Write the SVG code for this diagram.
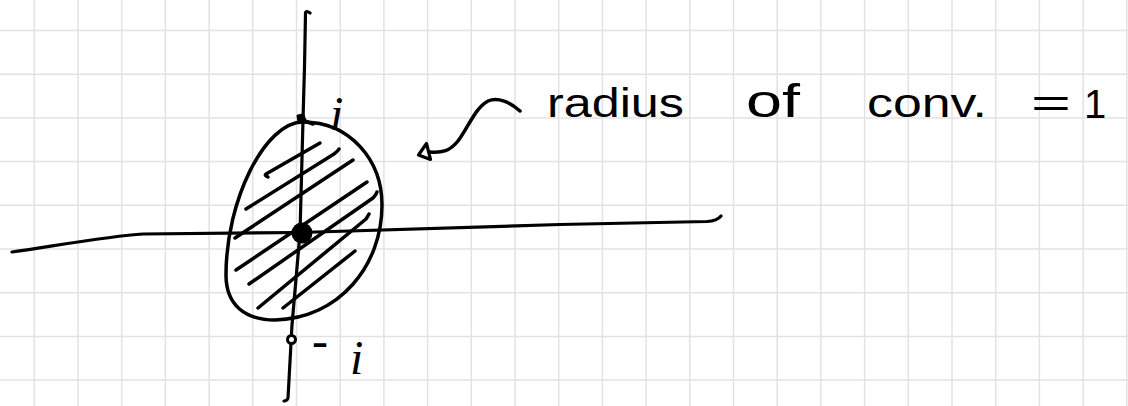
<svg xmlns="http://www.w3.org/2000/svg" width="1128" height="406" viewBox="0 0 1128 406">
<style>
.grid{stroke:#e2e2e2;stroke-width:1.5;fill:none}
.ink{stroke:#000;fill:none;stroke-width:3.5;stroke-linecap:round;stroke-linejoin:round}
.axis{stroke:#000;fill:none;stroke-width:3.2;stroke-linecap:round;stroke-linejoin:round}
.word{font-family:"Liberation Sans",Arial,sans-serif;font-size:40px;fill:#000}
.lab{font-family:"Liberation Serif","Times New Roman",serif;font-style:italic;font-size:48px;fill:#000}
</style>
<rect width="1128" height="406" fill="#fff"/>
<g id="grid" class="grid">
<path d="M34.3,0V406M78,0V406M121.7,0V406M165.4,0V406M209.1,0V406M252.8,0V406M296.5,0V406M340.2,0V406M383.9,0V406M427.6,0V406M471.3,0V406M515,0V406M558.7,0V406M602.4,0V406M646.1,0V406M689.8,0V406M733.5,0V406M777.2,0V406M820.9,0V406M864.6,0V406M908.3,0V406M952,0V406M995.7,0V406M1039.4,0V406M1083.1,0V406M1126.8,0V406"/>
<path d="M0,30.5H1128M0,74.2H1128M0,117.9H1128M0,161.6H1128M0,205.3H1128M0,249H1128M0,292.7H1128M0,336.4H1128M0,380.1H1128"/>
</g>
<g id="disk">
<path class="ink" d="M303,122 C350,122 382,160 382,205 C382,265 340,318 275,320 C245,320 226,305 226,275 C226,200 265,122 303,122 Z"/>
<g id="hatching" class="ink">
<path d="M268,177 Q264,175 266,174 L320,143"/>
<path d="M246,209 L334,154 Q338,151 339,149"/>
<path d="M235,238 L353,160"/>
<path d="M236,270 L367,182"/>
<path d="M249,284 L373,198 Q376,195 377,192"/>
<path d="M258,308 L366,219 Q368,216 369,214"/>
<path d="M283,308 L355,251"/>
</g>
</g>
<g id="axes">
<path class="axis" d="M12,252 C60,245 110,236 143,234 L300,232.5 L560,224.5 L707,221.5 Q717,221 721,216"/>
<path class="axis" d="M310,13 Q306,10 305.5,13 C305,50 304,90 303,120 L300,233 L292,325 L288,398 Q287,401 284,401"/>
</g>
<g id="points">
<circle cx="302" cy="233" r="10.5" fill="#000"/>
<path d="M298,116 L303,115 L305,121 L299,122 Z" fill="#000" stroke="#000" stroke-width="3" stroke-linejoin="round"/>
<path class="ink" d="M305,121 L313,124"/>
<circle cx="291.5" cy="339.5" r="4" fill="#fff" stroke="#000" stroke-width="3"/>
</g>
<g id="labels">
<text class="lab" x="330" y="130">i</text>
<text class="lab" x="312" y="357">-<tspan x="350" y="374">i</tspan></text>
</g>
<g id="connectors">
<path class="ink" d="M520,111 C510,102 498,97 488,101 C475,108 468,128 458,141 C450,151 442,153 430,152"/>
<path d="M418.5,155 L426.5,143.5 L430.5,159.5 Z" fill="#fff" stroke="#000" stroke-width="3.2" stroke-linejoin="round"/>
</g>
<g id="annotation">
<text class="word" x="547" y="117" textLength="137" lengthAdjust="spacingAndGlyphs">radius</text>
<text class="word" x="746" y="117" style="font-size:46px" textLength="54" lengthAdjust="spacingAndGlyphs">of</text>
<text class="word" x="867" y="117" textLength="120" lengthAdjust="spacingAndGlyphs">conv.</text>
<text class="word" x="1031" y="117" textLength="40" lengthAdjust="spacingAndGlyphs">=</text>
<text class="word" x="1084" y="118">1</text>
</g>
</svg>
